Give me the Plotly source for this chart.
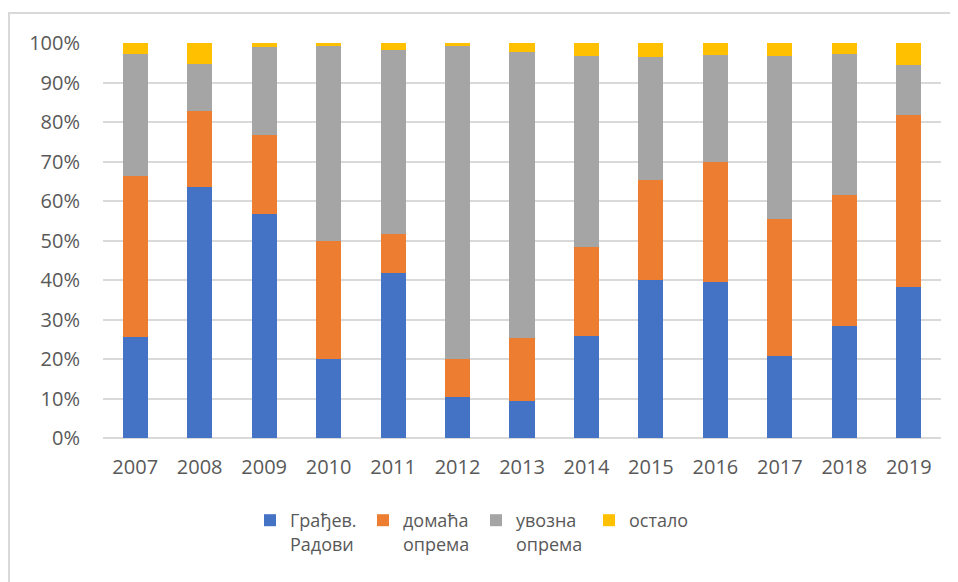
import plotly.graph_objects as go

years = ["2007", "2008", "2009", "2010", "2011", "2012", "2013",
         "2014", "2015", "2016", "2017", "2018", "2019"]
gradjev = [25.6, 63.5, 56.7, 20.0, 41.9, 10.3, 9.4, 25.9, 39.9, 39.5, 20.7, 28.3, 38.2]
domaca = [40.8, 19.2, 19.9, 30.0, 9.7, 9.7, 15.8, 22.5, 25.3, 30.5, 34.7, 33.1, 43.6]
uvozna = [30.9, 12.1, 22.4, 49.3, 46.7, 79.3, 72.5, 48.3, 31.2, 27.0, 41.3, 35.9, 12.6]
ostalo = [2.7, 5.2, 1.0, 0.7, 1.7, 0.7, 2.3, 3.3, 3.6, 3.0, 3.3, 2.7, 5.6]

series = [
    ("Грађев.<br>Радови", gradjev, "#4472C4"),
    ("домаћа<br>опрема", domaca, "#ED7D31"),
    ("увозна<br>опрема", uvozna, "#A5A5A5"),
    ("остало", ostalo, "#FFC000"),
]

fig = go.Figure()
for name, vals, color in series:
    fig.add_trace(go.Bar(x=years, y=vals, name=name, marker_color=color,
                         marker_line_width=0))

# page body has an 8px margin, so figure coords = screen coords - 8
W, H = 950, 574
L, R, T, B = 95, 17, 35, 144
pw, ph = W - L - R, H - T - B

def px(x):
    return (x - L) / pw

def py(y):
    return (H - B - y) / ph

fig.update_layout(
    width=W, height=H,
    barmode="stack",
    bargap=0.61,
    margin=dict(l=L, r=R, t=T, b=B),
    paper_bgcolor="white",
    plot_bgcolor="white",
    font=dict(family="Open Sans", color="#595959", size=20),
    xaxis=dict(showgrid=False, showline=False, ticks="", tickfont=dict(size=20),
               ticklabelstandoff=15, automargin=False),
    yaxis=dict(range=[0, 100], dtick=10, ticksuffix="%", showgrid=True,
               gridcolor="#D9D9D9", gridwidth=1.5, zeroline=True,
               zerolinecolor="#D9D9D9", zerolinewidth=1.5, showline=False,
               ticks="", tickfont=dict(size=20), ticklabelstandoff=22,
               automargin=False),
    legend=dict(orientation="h", x=px(242), xanchor="left", y=py(494),
                yanchor="top", valign="top", font=dict(size=18, color="#595959"),
                entrywidth=68, entrywidthmode="pixels", traceorder="normal",
                itemwidth=30),
    shapes=[dict(type="rect", xref="paper", yref="paper",
                 x0=px(1), x1=px(990), y0=py(600), y1=py(5),
                 line=dict(color="#D9D9D9", width=2), fillcolor="rgba(0,0,0,0)",
                 layer="below")],
)

fig.write_html("out.html")
